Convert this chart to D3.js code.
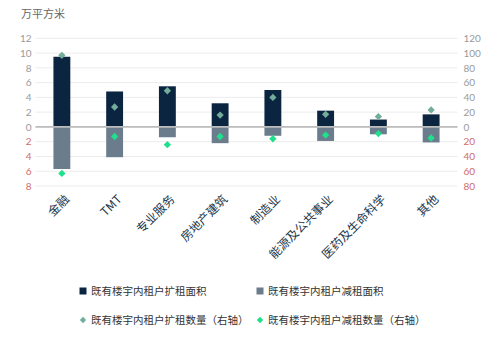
<!DOCTYPE html>
<html><head><meta charset="utf-8">
<script src="https://cdn.jsdelivr.net/npm/d3@7"></script>
<style>body{margin:0;background:#fff;font-family:"Noto Sans CJK SC","Noto Sans",sans-serif}</style>
</head><body><svg id="c" width="500" height="344"></svg>
<script>
// 行业分类
const categories = ["金融","TMT","专业服务","房地产建筑","制造业","能源及公共事业","医药及生命科学","其他"];
// 面积（万平方米），减租为负
const expandArea = [9.5, 4.8, 5.5, 3.2, 5.0, 2.2, 1.0, 1.7];
const shrinkArea = [-5.7, -4.1, -1.4, -2.2, -1.2, -1.9, -1.0, -2.1];
// 租户数量（右轴），减租为负
const expandCount = [97, 27, 49, 16, 40, 17, 14, 23];
const shrinkCount = [-63, -13, -24, -13, -16, -11, -9, -15];
// 刻度
const leftTicks = [12,10,8,6,4,2,0,-2,-4,-6,-8];
const rightTicks = [120,100,80,60,40,20,0,-20,-40,-60,-80];
const legendNames = ["既有楼宇内租户扩租面积","既有楼宇内租户减租面积","既有楼宇内租户扩租数量（右轴）","既有楼宇内租户减租数量（右轴）"];

const C = {dark:"#0b2540", slate:"#6b7d8d", teal:"#72ad9c", green:"#1fe08c", red:"#cf6b6b", grey:"#9a9a9a"};
const svg = d3.select("#c");
const left = 35.5, right = 457.5;
const x = d3.scaleBand().domain(categories).range([left, right]).paddingInner(0.68).paddingOuter(0.34);
const yL = d3.scaleLinear().domain([-8, 12]).range([186, 38.3]);
const yR = d3.scaleLinear().domain([-80, 120]).range([186, 38.3]);

// 网格线
svg.append("g").selectAll("line").data(leftTicks).join("line")
  .attr("x1", left).attr("x2", right)
  .attr("y1", d => yL(d)).attr("y2", d => yL(d))
  .attr("stroke", "#ececec").attr("stroke-width", 1);

// 左轴
const ax = svg.append("g").attr("transform", `translate(${left - 4},0)`)
  .call(d3.axisLeft(yL).tickValues(leftTicks).tickSize(0).tickPadding(0).tickFormat(d => Math.abs(d)));
ax.select(".domain").remove();
ax.selectAll("text").attr("font-family", "Lato, sans-serif").attr("font-size", 10)
  .attr("fill", d => d < 0 ? C.red : C.grey);

// 右轴
const ar = svg.append("g").attr("transform", `translate(${right + 6},0)`)
  .call(d3.axisRight(yR).tickValues(rightTicks).tickSize(0).tickPadding(0).tickFormat(d => Math.abs(d)));
ar.select(".domain").remove();
ar.selectAll("text").attr("font-family", "Lato, sans-serif").attr("font-size", 10)
  .attr("fill", d => d < 0 ? C.red : C.grey);

svg.append("text").attr("x", 21).attr("y", 18).attr("font-size", 11).attr("fill", "#666").text("万平方米");

// 柱
const bw = x.bandwidth();
svg.append("g").selectAll("rect").data(categories).join("rect")
  .attr("x", d => x(d)).attr("width", bw)
  .attr("y", (d, i) => yL(expandArea[i])).attr("height", (d, i) => yL(0) - yL(expandArea[i]))
  .attr("fill", C.dark);
svg.append("g").selectAll("rect").data(categories).join("rect")
  .attr("x", d => x(d)).attr("width", bw)
  .attr("y", yL(0)).attr("height", (d, i) => yL(shrinkArea[i]) - yL(0))
  .attr("fill", C.slate);

// 零线
svg.append("line").attr("x1", left).attr("x2", right).attr("y1", yL(0)).attr("y2", yL(0))
  .attr("stroke", "#bdbdbd").attr("stroke-width", 1.6);

// 菱形点
const diamond = d3.symbol().type(d3.symbolDiamond2).size(34);
function dots(vals, color) {
  svg.append("g").selectAll("path").data(categories).join("path")
    .attr("d", diamond)
    .attr("transform", (d, i) => `translate(${x(d) + bw / 2},${yR(vals[i])})`)
    .attr("fill", color);
}
dots(expandCount, C.teal);
dots(shrinkCount, C.green);

// 类别标签
svg.append("g").selectAll("text").data(categories).join("text")
  .attr("transform", d => `translate(${x(d) + bw / 2 + 8},${200}) rotate(-45)`)
  .attr("text-anchor", "end").attr("font-size", 12).attr("fill", "#22364a").text(d => d);

// 图例
const lg = [
  {x: 83, y: 291, t: "rect", c: C.dark},
  {x: 260, y: 291, t: "rect", c: C.slate},
  {x: 83, y: 320, t: "dia", c: C.teal},
  {x: 260, y: 320, t: "dia", c: C.green}
];
lg.forEach((l, i) => {
  if (l.t === "rect") svg.append("rect").attr("x", l.x - 3.5).attr("y", l.y - 3.5).attr("width", 7).attr("height", 7).attr("fill", l.c);
  else svg.append("path").attr("d", d3.symbol().type(d3.symbolDiamond2).size(26)).attr("transform", `translate(${l.x},${l.y})`).attr("fill", l.c);
  svg.append("text").attr("x", l.x + 8).attr("y", l.y + 4).attr("font-size", 10.5).attr("fill", "#333").text(legendNames[i]);
});
</script></body></html>
